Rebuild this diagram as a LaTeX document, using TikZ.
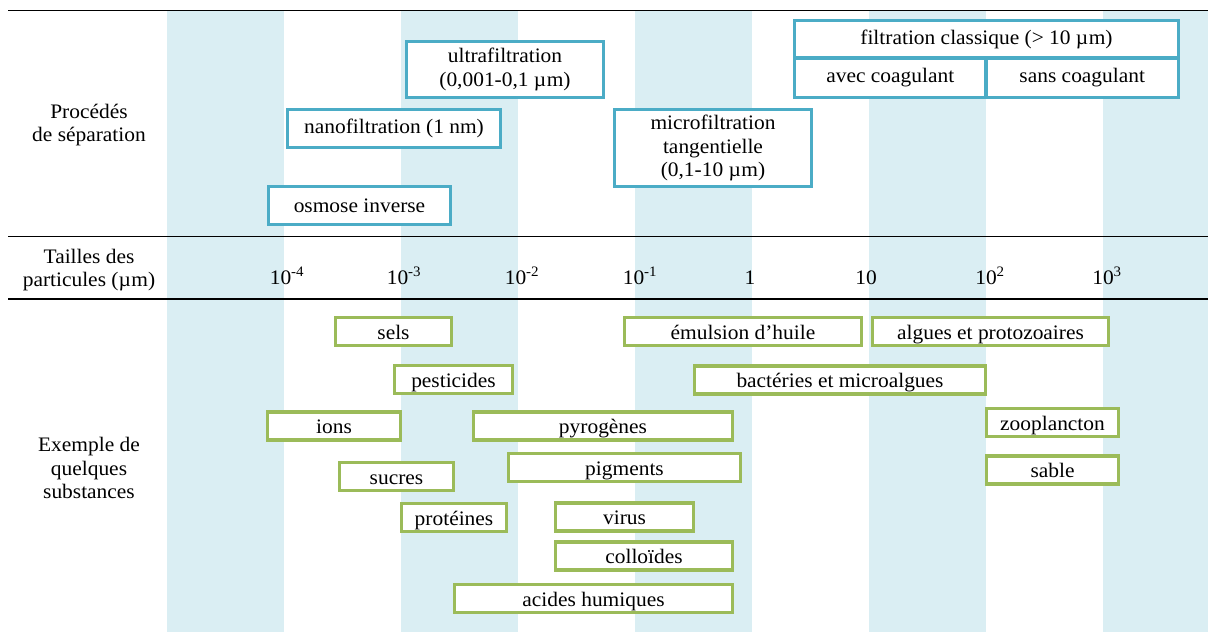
\documentclass[tikz,border=0pt]{standalone}
\usepackage{fontspec}
\setmainfont{Liberation Serif}[FakeStretch=1.04]
\definecolor{bandcol}{HTML}{DAEEF3}
\definecolor{bcol}{HTML}{4BACC6}
\definecolor{gcol}{HTML}{9BBB59}
\newcommand{\um}{\textmu\kern0.5pt m}
\begin{document}
\begin{tikzpicture}[x=1pt,y=-1pt,
  every node/.style={font=\fontsize{20.6}{23.5}\selectfont},
  bbox/.style={draw=bcol,line width=3.2pt,fill=white,inner sep=0pt,align=center},
  gbox/.style={draw=gcol,line width=3.2pt,fill=white,inner sep=0pt,minimum height=28pt,text height=17pt,text depth=2pt},
  lbl/.style={align=center,inner sep=0pt},
  tick/.style={inner sep=0pt,anchor=base},
  rule/.style={line width=1.6pt,black}]
\useasboundingbox (0,0) rectangle (1208,632);
% bands
\foreach \a/\b in {167/284,401/518,635/752,869/986,1103/1208}
  \fill[bandcol] (\a,10) rectangle (\b,632);
% rules
\coordinate (r1a) at (8,10.5); \coordinate (r1b) at (1208,10.5);
\coordinate (r2a) at (8,236.5); \coordinate (r2b) at (1208,236.5);
\coordinate (r3a) at (8,299); \coordinate (r3b) at (1208,299);
\draw[rule] (r1a) -- (r1b);
\draw[rule] (r2a) -- (r2b);
\draw[rule] (r3a) -- (r3b);
% left labels
\node[lbl] (proc) at (89,125) {Procédés\\de séparation};
\node[lbl] (tail) at (89,270) {Tailles des\\particules (\um)};
\node[lbl] (exem) at (89,468) {Exemple de\\quelques\\substances};
% ticks
\node[tick] (t1) at (287,284) {10\textsuperscript{-4}};
\node[tick] (t2) at (404,284) {10\textsuperscript{-3}};
\node[tick] (t3) at (522,284) {10\textsuperscript{-2}};
\node[tick] (t4) at (640,284) {10\textsuperscript{-1}};
\node[tick] (t5) at (750,284) {1};
\node[tick] (t6) at (866,284) {10};
\node[tick] (t7) at (990,284) {10\textsuperscript{2}};
\node[tick] (t8) at (1107,284) {10\textsuperscript{3}};
% separation processes
\node[bbox,minimum width=197pt,minimum height=56pt] (ultra) at (505,69.5) {ultrafiltration\\(0,001-0,1 \um)};
\node[bbox,minimum width=213pt,minimum height=38pt] (nano) at (394,128.5) {nanofiltration (1 nm)};
\node[bbox,minimum width=182pt,minimum height=38pt] (osmo) at (359.5,205.5) {osmose inverse};
\node[bbox,minimum width=197pt,minimum height=77pt] (micro) at (713,148) {microfiltration\\tangentielle\\(0,1-10 \um)};
\node[bbox,minimum width=384pt,minimum height=37.5pt] (fclass) at (986.5,39.25) {filtration classique (> 10 \um)};
\node[bbox,minimum width=191.5pt,minimum height=39.5pt] (avec) at (890.25,77.75) {avec coagulant};
\node[bbox,minimum width=192.5pt,minimum height=39.5pt] (sans) at (1082.25,77.75) {sans coagulant};
% substances
\node[gbox,minimum width=116pt] (sels) at (393.5,331.5) {sels};
\node[gbox,minimum width=237pt] (emul) at (743,331.5) {émulsion d’huile};
\node[gbox,minimum width=236pt] (algu) at (990.5,331.5) {algues et protozoaires};
\node[gbox,minimum width=118pt] (pest) at (453.5,379.5) {pesticides};
\node[gbox,minimum width=291pt] (bact) at (840,380) {bactéries et microalgues};
\node[gbox,minimum width=133pt] (ions) at (334,426) {ions};
\node[gbox,minimum width=259pt] (pyro) at (603,426) {pyrogènes};
\node[gbox,minimum width=132pt] (zoop) at (1052.5,422.5) {zooplancton};
\node[gbox,minimum width=114pt] (sucr) at (396.5,476.5) {sucres};
\node[gbox,minimum width=232pt] (pigm) at (624.5,467.5) {pigments};
\node[gbox,minimum width=132pt] (sabl) at (1052.5,470) {sable};
\node[gbox,minimum width=105pt] (prot) at (454,517.5) {protéines};
\node[gbox,minimum width=138pt] (viru) at (624.5,517) {virus};
\node[gbox,minimum width=177pt] (coll) at (644,556) {colloïdes};
\node[gbox,minimum width=278pt] (acid) at (593.5,598.5) {acides humiques};
\end{tikzpicture}
\end{document}
